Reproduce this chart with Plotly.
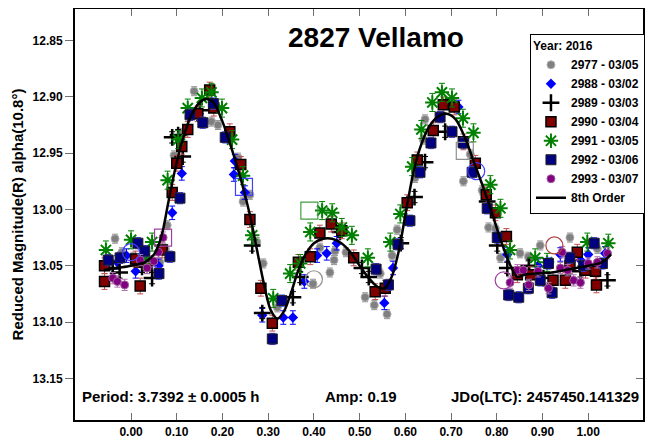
import plotly.graph_objects as go

# ---------------- data (phase, reduced magnitude) ----------------
fit_phase = [-0.06, -0.03, 0.00, 0.03, 0.05, 0.06, 0.07, 0.08, 0.095, 0.11, 0.13, 0.15, 0.165, 0.18,
             0.20, 0.22, 0.24, 0.26, 0.275, 0.29, 0.305, 0.32, 0.335, 0.35, 0.365, 0.38, 0.40, 0.42,
             0.44, 0.46, 0.48, 0.50, 0.52, 0.54, 0.555, 0.57, 0.585, 0.60, 0.615, 0.63, 0.65, 0.67,
             0.69, 0.71, 0.73, 0.75, 0.77, 0.79, 0.81, 0.83, 0.845, 0.86, 0.88, 0.92, 0.96, 1.00,
             1.03, 1.05]
fit_mag = [13.054, 13.052, 13.050, 13.047, 13.040, 13.032, 13.018, 12.997, 12.967, 12.942, 12.918,
           12.905, 12.902, 12.905, 12.922, 12.946, 12.973, 13.005, 13.035, 13.065, 13.089, 13.097,
           13.090, 13.074, 13.055, 13.041, 13.030, 13.026, 13.026, 13.030, 13.038, 13.050, 13.061,
           13.069, 13.070, 13.060, 13.038, 13.005, 12.972, 12.948, 12.928, 12.918, 12.915, 12.920,
           12.936, 12.958, 12.980, 13.004, 13.029, 13.050, 13.060, 13.058, 13.057, 13.056, 13.053,
           13.050, 13.047, 13.040]

labels = ["2977 - 03/05", "2988 - 03/02", "2989 - 03/03", "2990 - 03/04",
          "2991 - 03/05", "2992 - 03/06", "2993 - 03/07"]

ph_2977 = [-0.035, -0.02, 0.005, 0.04, 0.063, 0.075, 0.079, 0.094, 0.114, 0.138, 0.176, 0.19,
           0.234, 0.245, 0.26, 0.275, 0.289, 0.32, 0.398, 0.413, 0.435, 0.444, 0.446, 0.47, 0.512,
           0.532, 0.545, 0.56, 0.571, 0.582, 0.621, 0.639, 0.643, 0.727, 0.742, 0.768, 0.782,
           0.797, 0.808, 0.851, 0.869, 0.895, 0.96, 1.02]
mg_2977 = [13.026, 13.038, 13.042, 13.049, 13.047, 13.035, 13.014, 12.952, 12.932, 12.895, 12.922,
           12.925, 12.954, 12.993, 12.987, 13.029, 13.048, 13.087, 13.066, 13.034, 13.056, 13.045,
           13.037, 13.038, 13.078, 13.085, 13.057, 13.093, 13.041, 13.018, 12.972, 12.938, 12.920,
           12.975, 12.951, 12.983, 13.016, 13.017, 13.043, 13.039, 13.042, 13.032, 13.025, 13.035]

ph_2988 = [-0.03, -0.01, 0.01, 0.03, 0.06, 0.09, 0.111, 0.153, 0.227, 0.225, 0.249, 0.287, 0.333,
           0.354, 0.379, 0.407, 0.428, 0.45, 0.554, 0.573, 0.716, 0.823, 0.89, 0.939, 0.983,
           1.0, 1.037]
mg_2988 = [13.047, 13.041, 13.055, 13.043, 13.050, 13.003, 12.968, 12.921, 12.957, 12.969, 12.985,
           13.094, 13.096, 13.096, 13.064, 13.041, 13.039, 13.030, 13.083, 13.052, 12.909, 13.040,
           13.050, 13.040, 13.045, 13.040, 13.039]

ph_2989 = [-0.04, -0.025, 0.024, 0.046, 0.09, 0.103, 0.113, 0.15, 0.265, 0.287, 0.354, 0.37,
           0.457, 0.505, 0.52, 0.59, 0.62, 0.643, 0.687, 0.779, 0.801, 0.823, 0.87, 0.902,
           0.983, 1.042]
mg_2989 = [13.052, 13.056, 13.051, 13.061, 12.936, 12.934, 12.953, 12.912, 13.032, 13.092, 13.078,
           13.060, 13.020, 13.052, 13.060, 13.030, 12.989, 12.958, 12.931, 12.993, 13.032, 13.052,
           13.050, 13.061, 13.055, 13.063]

ph_2990 = [-0.058, -0.058, 0.02, 0.01, 0.068, 0.035, 0.09, 0.10, 0.111, 0.124, 0.146, 0.172,
           0.181, 0.216, 0.24, 0.26, 0.284, 0.309, 0.366, 0.392, 0.413, 0.438, 0.461, 0.487,
           0.534, 0.556, 0.604, 0.626, 0.661, 0.683, 0.707, 0.727, 0.753, 0.777, 0.797, 0.821,
           0.845, 0.874, 0.923, 0.95, 0.96, 0.976, 0.994, 1.016, 1.018]
mg_2990 = [13.050, 13.064, 13.068, 13.044, 13.036, 13.050, 12.985, 12.959, 12.944, 12.929, 12.915,
           12.894, 12.910, 12.931, 12.960, 13.009, 13.070, 13.101, 13.047, 13.042, 13.021, 13.013,
           13.019, 13.043, 13.073, 13.070, 12.994, 12.956, 12.930, 12.907, 12.909, 12.940, 12.959,
           12.987, 13.003, 13.024, 13.058, 13.058, 13.063, 13.063, 13.050, 13.038, 13.054, 13.055,
           13.067]

ph_2991 = [-0.055, 0.0, 0.046, 0.03, 0.08, 0.103, 0.124, 0.155, 0.176, 0.199, 0.221, 0.245,
           0.265, 0.311, 0.348, 0.37, 0.392, 0.418, 0.44, 0.461, 0.483, 0.518, 0.567, 0.589,
           0.615, 0.635, 0.659, 0.68, 0.702, 0.726, 0.749, 0.786, 0.808, 0.829, 0.884, 0.91,
           0.998, 1.044]
mg_2991 = [13.036, 13.027, 13.029, 13.045, 12.974, 12.938, 12.910, 12.901, 12.896, 12.910, 12.938,
           12.970, 13.023, 13.079, 13.057, 13.048, 13.020, 13.001, 13.003, 13.016, 13.023, 13.043,
           13.029, 13.004, 12.962, 12.929, 12.905, 12.896, 12.901, 12.919, 12.932, 12.978, 12.999,
           13.036, 13.043, 13.047, 13.029, 13.030]

ph_2992 = [-0.05, -0.024, 0.015, 0.03, 0.061, 0.085, 0.107, 0.129, 0.157, 0.18, 0.206, 0.309,
           0.33, 0.536, 0.563, 0.584, 0.61, 0.632, 0.656, 0.676, 0.702, 0.727, 0.746, 0.779,
           0.801, 0.826, 0.848, 0.869, 0.895, 0.913, 0.921, 0.96, 0.99, 1.013, 1.031]
mg_2992 = [13.045, 13.043, 13.030, 13.037, 13.057, 13.042, 12.990, 12.916, 12.923, 12.906, 12.936,
           13.115, 13.081, 13.053, 13.067, 13.031, 13.010, 12.967, 12.941, 12.918, 12.931, 12.941,
           12.967, 12.999, 13.025, 13.076, 13.078, 13.070, 13.063, 13.048, 13.074, 13.043, 13.050,
           13.030, 13.048]

ph_2993 = [-0.04, -0.03, -0.014, 0.02, 0.035, 0.05, 0.06, 0.07, 0.829, 0.845, 0.858, 0.87, 0.89,
           0.913, 0.939, 0.943, 0.955, 0.968, 0.983, 1.0, 1.02, 1.042]
mg_2993 = [13.061, 13.064, 13.067, 13.045, 13.052, 13.046, 13.038, 13.025, 13.065, 13.054, 13.054,
           13.067, 13.055, 13.070, 13.052, 13.038, 13.054, 13.063, 13.065, 13.048, 13.047, 13.039]

# highlighted (first / last) observations of some sessions
hl_ph_2977 = [0.40, 0.73]
hl_mg_2977 = [13.062, 12.948]
hl_ph_2988 = [0.0, 0.247, 0.755]
hl_mg_2988 = [13.038, 12.980, 12.966]
hl_ph_2990 = [0.926]
hl_mg_2990 = [13.032]
hl_ph_2991 = [0.39]
hl_mg_2991 = [13.001]
hl_ph_2993 = [0.07, 0.815]
hl_mg_2993 = [13.025, 13.063]

x_ticks = [0.0, 0.1, 0.2, 0.3, 0.4, 0.5, 0.6, 0.7, 0.8, 0.9, 1.0]
y_ticks = [12.85, 12.90, 12.95, 13.00, 13.05, 13.10, 13.15]

# ---------------- figure ----------------
FONT = "Arial, Liberation Sans, sans-serif"
fig = go.Figure()

styles = [
    dict(symbol="circle", size=8, color="#808080", line=dict(color="#B0B0B0", width=1)),
    dict(symbol="diamond", size=8, color="#0000FF", line=dict(color="#0000FF", width=0)),
    dict(symbol="cross-thin-open", size=12, color="#000000", line=dict(color="#000000", width=2.5)),
    dict(symbol="square", size=10, color="#800000", line=dict(color="#000000", width=1.5)),
    dict(symbol="asterisk-open", size=12, color="#008000", line=dict(color="#008000", width=2)),
    dict(symbol="square", size=10, color="#000080", line=dict(color="#202020", width=1)),
    dict(symbol="circle", size=8, color="#800080", line=dict(color="#A060A0", width=1)),
]
err_cols = ["#909090", "#0000FF", "#000000", "#C05050", "#008000", "#4040FF", "#B070B0"]
err_vals = [0.004, 0.006, 0.005, 0.007, 0.008, 0.005, 0.005]
phs = [ph_2977, ph_2988, ph_2989, ph_2990, ph_2991, ph_2992, ph_2993]
mgs = [mg_2977, mg_2988, mg_2989, mg_2990, mg_2991, mg_2992, mg_2993]

for lab, st, ec, ev, p, m in zip(labels, styles, err_cols, err_vals, phs, mgs):
    fig.add_trace(go.Scatter(
        x=p, y=m, mode="markers", name=lab, marker=st,
        error_y=dict(type="constant", value=ev, color=ec, thickness=1, width=3),
    ))

hl_sets = [
    (hl_ph_2977, hl_mg_2977, ["circle-open", "square-open"], "#909090"),
    (hl_ph_2988, hl_mg_2988, ["circle-open", "square-open", "circle-open"], "#4040FF"),
    (hl_ph_2990, hl_mg_2990, ["circle-open"], "#B04040"),
    (hl_ph_2991, hl_mg_2991, ["square-open"], "#40A040"),
    (hl_ph_2993, hl_mg_2993, ["square-open", "circle-open"], "#A040A0"),
]
for p, m, sy, c in hl_sets:
    fig.add_trace(go.Scatter(
        x=p, y=m, mode="markers", showlegend=False, hoverinfo="skip",
        marker=dict(symbol=sy, size=17, color=c, line=dict(color=c, width=1.2)),
    ))

fig.add_trace(go.Scatter(x=fit_phase, y=fit_mag, mode="lines", name="8th Order",
                         line=dict(color="black", width=2.5, shape="spline", smoothing=0.8)))

# right-side axis carrying the inside ticks
fig.add_trace(go.Scatter(x=[], y=[], yaxis="y2", showlegend=False, hoverinfo="skip"))

# the page body adds an 8 px margin, so the figure is 8 px smaller and shifted
yr = [13.187, 12.822]
fig.update_layout(
    width=662, height=433,
    margin=dict(l=67, r=27, t=1, b=21, autoexpand=False),
    paper_bgcolor="white", plot_bgcolor="white",
    font=dict(family=FONT, color="black"),
    showlegend=True,
    xaxis=dict(range=[-0.1226, 1.1198], tickvals=x_ticks, tickformat=".2f",
               ticks="inside", ticklen=7, tickwidth=1, tickcolor="#707070",
               showline=True, linecolor="black", linewidth=2, mirror="ticks",
               showgrid=False, zeroline=False, automargin=False,
               tickfont=dict(size=12, weight="bold", family=FONT)),
    yaxis=dict(range=yr, tickvals=y_ticks, tickformat=".2f",
               ticks="outside", ticklen=8, tickwidth=1, tickcolor="#707070",
               showline=True, linecolor="black", linewidth=2, mirror=True,
               showgrid=False, zeroline=False, automargin=False,
               tickfont=dict(size=12, weight="bold", family=FONT)),
    yaxis2=dict(range=yr, overlaying="y", side="right", tickvals=y_ticks,
                ticks="inside", ticklen=7, tickwidth=1, tickcolor="#707070", automargin=False,
                showticklabels=False, showline=False, showgrid=False, zeroline=False),
    legend=dict(x=0.801, y=0.94, xanchor="left", yanchor="top",
                bgcolor="white", bordercolor="black", borderwidth=1,
                font=dict(size=12, weight="bold", family=FONT),
                title=dict(text="Year: 2016", font=dict(size=12, weight="bold", family=FONT)),
                itemwidth=30, tracegroupgap=0),
    annotations=[
        dict(text="Reduced Magnitude(R) alpha(10.8°)", textangle=-90,
             x=-0.1005, y=0.5, xref="paper", yref="paper", xanchor="center", yanchor="middle",
             showarrow=False, font=dict(size=15, weight="bold", family=FONT)),
        dict(text="2827 Vellamo", x=0.530, y=0.930, xref="paper", yref="paper",
             xanchor="center", yanchor="middle",
             showarrow=False, font=dict(size=28, weight="bold", family=FONT)),
        dict(text="Period: 3.7392 ± 0.0005 h", x=0.008, y=0.056, xref="paper", yref="paper",
             xanchor="left", yanchor="middle", showarrow=False,
             font=dict(size=15, weight="bold", family=FONT)),
        dict(text="Amp: 0.19", x=0.504, y=0.056, xref="paper", yref="paper",
             xanchor="center", yanchor="middle", showarrow=False,
             font=dict(size=15, weight="bold", family=FONT)),
        dict(text="JDo(LTC): 2457450.141329", x=0.997, y=0.056, xref="paper", yref="paper",
             xanchor="right", yanchor="middle", showarrow=False,
             font=dict(size=15, weight="bold", family=FONT)),
    ],
)

fig.write_html("out.html")
